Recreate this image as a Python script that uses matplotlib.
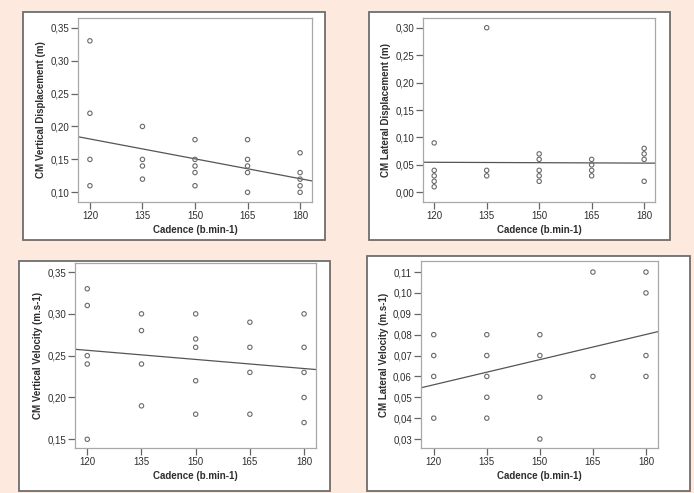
import matplotlib
matplotlib.use("Agg")
import matplotlib.pyplot as plt
from matplotlib.patches import Rectangle
from matplotlib.ticker import FuncFormatter
import numpy as np

plt.rcParams['font.family'] = ['Liberation Sans', 'DejaVu Sans']

cadence_ticks = [120, 135, 150, 165, 180]

# Panel 1: CM Vertical Displacement (m)
vd_x = [120]*4 + [135]*4 + [150]*5 + [165]*5 + [180]*5
vd_y = [0.33, 0.22, 0.15, 0.11,
        0.20, 0.15, 0.14, 0.12,
        0.18, 0.15, 0.14, 0.13, 0.11,
        0.18, 0.15, 0.14, 0.13, 0.10,
        0.16, 0.13, 0.12, 0.11, 0.10]
vd_fit = [0.181, 0.1207]          # fitted values at 120 and 180
vd_yticks = [0.10, 0.15, 0.20, 0.25, 0.30, 0.35]

# Panel 2: CM Lateral Displacement (m)
ld_x = [120]*5 + [135]*3 + [150]*5 + [165]*4 + [180]*4
ld_y = [0.09, 0.04, 0.03, 0.02, 0.01,
        0.30, 0.04, 0.03,
        0.07, 0.06, 0.04, 0.03, 0.02,
        0.06, 0.05, 0.04, 0.03,
        0.08, 0.07, 0.06, 0.02]
ld_fit = [0.0547, 0.0532]
ld_yticks = [0.00, 0.05, 0.10, 0.15, 0.20, 0.25, 0.30]

# Panel 3: CM Vertical Velocity (m.s-1)
vv_x = [120]*5 + [135]*4 + [150]*5 + [165]*4 + [180]*5
vv_y = [0.33, 0.31, 0.25, 0.24, 0.15,
        0.30, 0.28, 0.24, 0.19,
        0.30, 0.27, 0.26, 0.22, 0.18,
        0.29, 0.26, 0.23, 0.18,
        0.30, 0.26, 0.23, 0.20, 0.17]
vv_fit = [0.2564, 0.2346]
vv_yticks = [0.15, 0.20, 0.25, 0.30, 0.35]

# Panel 4: CM Lateral Velocity (m.s-1)
lv_x = [120]*4 + [135]*5 + [150]*4 + [165]*2 + [180]*4
lv_y = [0.08, 0.07, 0.06, 0.04,
        0.08, 0.07, 0.06, 0.05, 0.04,
        0.08, 0.07, 0.05, 0.03,
        0.11, 0.06,
        0.11, 0.10, 0.07, 0.06]
lv_fit = [0.0560, 0.0801]
lv_yticks = [0.03, 0.04, 0.05, 0.06, 0.07, 0.08, 0.09, 0.10, 0.11]

W, H = 694, 493
fig = plt.figure(figsize=(W/100, H/100), dpi=100)
fig.patch.set_facecolor('#fde9de')

def box(x0, y0, x1, y1):
    r = Rectangle((x0/W, 1 - y1/H), (x1-x0)/W, (y1-y0)/H, transform=fig.transFigure,
                  facecolor='white', edgecolor='#6e6e6e', linewidth=1.3, zorder=-10)
    fig.patches.append(r)

def panel(rect, xs, ys, fit, yticks, ylim, xlim, ylabel):
    x0, y0, x1, y1 = rect
    ax = fig.add_axes([x0/W, 1 - y1/H, (x1-x0)/W, (y1-y0)/H], zorder=5)
    ax.set_facecolor('white')
    ax.scatter(xs, ys, s=10, facecolors='none', edgecolors='#6a6a6a', linewidths=0.8, zorder=3)
    fx = np.array([120, 180])
    fy = np.array(fit)
    slope = (fy[1]-fy[0])/(fx[1]-fx[0])
    lx = np.array(xlim)
    ly = fy[0] + slope*(lx - fx[0])
    ax.plot(lx, ly, color='#555555', linewidth=0.9, zorder=2)
    ax.set_xlim(xlim)
    ax.set_ylim(ylim)
    ax.set_xticks(cadence_ticks)
    ax.set_yticks(yticks)
    ax.yaxis.set_major_formatter(FuncFormatter(lambda v, p: f"{v:.2f}".replace('.', ',')))
    for s in ax.spines.values():
        s.set_color('#a8a8a8')
        s.set_linewidth(0.9)
    ax.tick_params(axis='both', direction='out', length=5, width=0.9, color='#666666',
                   labelsize=7, labelcolor='#2e2e2e', pad=1.5)
    ax.tick_params(top=False, right=False)
    ax.set_xlabel('Cadence (b.min-1)', fontsize=7, fontweight='bold', color='#2e2e2e', labelpad=3)
    ax.set_ylabel(ylabel, fontsize=7, fontweight='bold', color='#2e2e2e', labelpad=3)
    return ax

box(23, 12, 325, 240)
box(369, 12, 670, 240)
box(19, 261, 330, 491)
box(367, 256, 690, 491)

panel((78, 18, 312, 202), vd_x, vd_y, vd_fit, vd_yticks, (0.0853, 0.3647), (116.6, 183.4),
      'CM Vertical Displacement (m)')
panel((423, 18, 655, 202), ld_x, ld_y, ld_fit, ld_yticks, (-0.0177, 0.3177), (116.8, 183.1),
      'CM Lateral Displacement (m)')
panel((75, 263, 316, 448), vv_x, vv_y, vv_fit, vv_yticks, (0.1396, 0.3608), (116.6, 183.3),
      'CM Vertical Velocity (m.s-1)')
panel((421, 261, 658, 448), lv_x, lv_y, lv_fit, lv_yticks, (0.0257, 0.1153), (116.4, 183.4),
      'CM Lateral Velocity (m.s-1)')

fig.savefig('out.png', dpi=100, facecolor=fig.get_facecolor())
